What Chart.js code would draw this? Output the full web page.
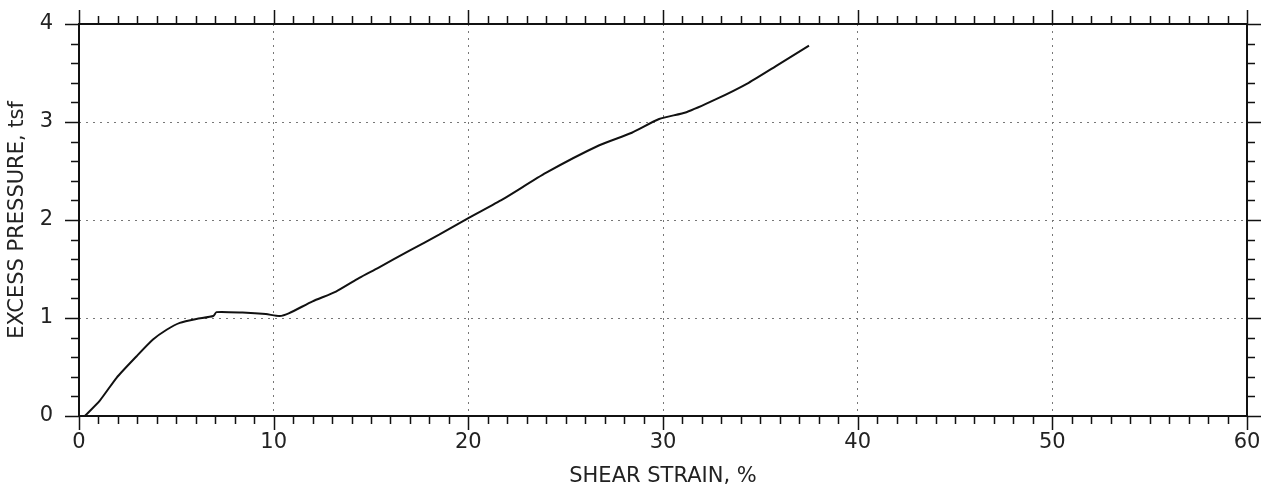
<!DOCTYPE html>
<html lang="en">
<head>
    <meta charset="UTF-8">
    <title>Shear strain vs excess pressure</title>
    <script src="https://cdn.jsdelivr.net/npm/chart.js"></script>
    <style>
        body { margin: 0; background: #fff; }
        #wrap { width: 1267px; height: 492px; }
    </style>
</head>
<body>
    <div id="wrap">
        <canvas id="strainChart" width="1267" height="492"></canvas>
    </div>

    <script>
        // curve
        const shearStrain = [0.3, 1.08, 1.93, 2.96, 3.8, 4.5, 5.18, 6.03, 6.9, 7.06, 8.4, 9.6, 10.3, 10.8,
            12.0, 13.2, 14.4, 15.35, 17.0, 18.5, 20.0, 21.76, 23.98, 26.7, 28.4, 29.8, 31.2, 32.7, 34.4, 35.8, 37.5];
        const excessPressure = [0, 0.16, 0.39, 0.61, 0.78, 0.88, 0.95, 0.99, 1.02, 1.06, 1.055, 1.04, 1.02, 1.05,
            1.17, 1.27, 1.41, 1.51, 1.69, 1.85, 2.02, 2.21, 2.48, 2.76, 2.89, 3.03, 3.1, 3.23, 3.4, 3.57, 3.78];

        const xTicks = [0, 10, 20, 30, 40, 50, 60];
        const yTicks = [0, 1, 2, 3, 4];
        const xMinorStep = 1;
        const yMinorStep = 0.2;

        const points = shearStrain.map((x, i) => ({ x: x, y: excessPressure[i] }));

        // outward tick marks on all four sides + the frame
        const frameTicks = {
            id: 'frameTicks',
            afterDraw(chart) {
                const { ctx, chartArea: a, scales: { x, y } } = chart;
                ctx.save();
                ctx.strokeStyle = '#111';
                ctx.lineWidth = 1.5;
                ctx.beginPath();
                const xMax = xTicks[xTicks.length - 1];
                for (let i = 0; i * xMinorStep <= xMax + 1e-9; i++) {
                    const v = i * xMinorStep;
                    const px = Math.round(x.getPixelForValue(v)) + 0.5;
                    const len = xTicks.includes(v) ? 14 : 8;
                    ctx.moveTo(px, a.bottom); ctx.lineTo(px, a.bottom + len);
                    ctx.moveTo(px, a.top); ctx.lineTo(px, a.top - len);
                }
                const yMax = yTicks[yTicks.length - 1];
                for (let i = 0; i * yMinorStep <= yMax + 1e-9; i++) {
                    const v = i * yMinorStep;
                    const py = Math.round(y.getPixelForValue(v)) + 0.5;
                    const major = Math.abs(v - Math.round(v)) < 1e-6;
                    const len = major ? 14 : 8;
                    ctx.moveTo(a.left, py); ctx.lineTo(a.left - len, py);
                    ctx.moveTo(a.right, py); ctx.lineTo(a.right + len, py);
                }
                ctx.stroke();
                ctx.lineWidth = 2;
                ctx.strokeRect(a.left, a.top, a.right - a.left, a.bottom - a.top);
                ctx.restore();
            }
        };

        const font = { family: "'DejaVu Sans', sans-serif", size: 21 };

        const ctx = document.getElementById('strainChart').getContext('2d');
        const strainChart = new Chart(ctx, {
            type: 'scatter',
            data: {
                datasets: [{
                    data: points,
                    showLine: true,
                    borderColor: '#111',
                    borderWidth: 2,
                    pointRadius: 0,
                    tension: 0.2
                }]
            },
            options: {
                responsive: false,
                animation: false,
                layout: { padding: { top: 24, right: 20, left: 0, bottom: 0 } },
                plugins: {
                    legend: { display: false },
                    tooltip: { enabled: false }
                },
                scales: {
                    x: {
                        type: 'linear',
                        min: 0,
                        max: 60,
                        afterFit(scale) {
                            scale.height = 76;
                            scale.paddingLeft = 0;
                            scale.paddingRight = 0;
                        },
                        ticks: { stepSize: 10, color: '#222', font: font, padding: 14, maxRotation: 0 },
                        grid: {
                            drawTicks: false,
                            lineWidth: 1,
                            color: (c) => (c.tick && c.tick.value > 0 && c.tick.value < 60) ? '#777' : 'transparent'
                        },
                        border: { display: false, dash: [2, 5] },
                        title: {
                            display: true,
                            text: 'SHEAR STRAIN, %',
                            color: '#222',
                            font: font,
                            padding: { top: 0, bottom: 3 }
                        }
                    },
                    y: {
                        type: 'linear',
                        min: 0,
                        max: 4,
                        afterFit(scale) {
                            scale.width = 79;
                            scale.paddingTop = 0;
                            scale.paddingBottom = 0;
                        },
                        ticks: { stepSize: 1, color: '#222', font: font, padding: 26 },
                        grid: {
                            drawTicks: false,
                            lineWidth: 1,
                            color: (c) => (c.tick && c.tick.value > 0 && c.tick.value < 4) ? '#777' : 'transparent'
                        },
                        border: { display: false, dash: [2, 5] },
                        title: {
                            display: true,
                            text: 'EXCESS PRESSURE, tsf',
                            color: '#222',
                            font: font,
                            padding: { top: 5, bottom: 0 }
                        }
                    }
                }
            },
            plugins: [frameTicks]
        });
    </script>
</body>
</html>
